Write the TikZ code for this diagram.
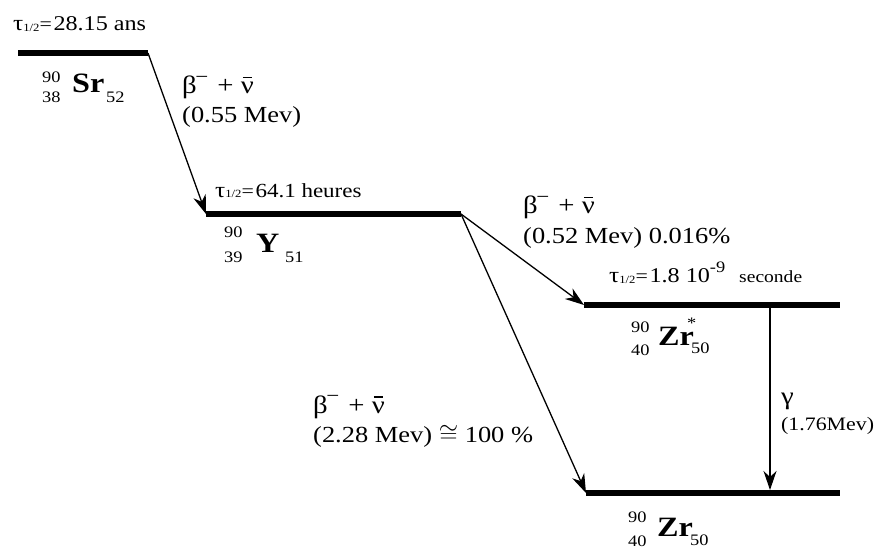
\documentclass[tikz,border=0pt]{standalone}
\usepackage{fontspec}
\setmainfont[FakeStretch=1.15]{Liberation Serif}
\usetikzlibrary{arrows.meta}
\newcommand\halflife[2]{{\fontsize{22}{22}\selectfont τ}{\fontsize{11}{11}\selectfont\raisebox{-1pt}{1/2}}{\fontsize{19}{19}\selectfont =}\,{\fontsize{#2}{#2}\selectfont #1}}
\newcommand\nubar{\ooalign{ν\cr\hidewidth\raisebox{0.62em}{\rule{0.36em}{0.05em}}\hidewidth\cr}}
\newcommand\betanu{β\kern-1.5pt\raisebox{0.42em}{\fontsize{20}{20}\selectfont −}\kern2pt\ + \nubar}
\tikzset{
  lvl/.style={line width=6pt},
  trans/.style={line width=1.3pt,-{Stealth[length=19pt,width=13pt,inset=6pt]}},
  txt/.style={inner sep=0pt,anchor=base west,font=\fontsize{23}{24}\selectfont},
  btxt/.style={inner sep=0pt,anchor=base west,font=\fontsize{25}{26}\selectfont},
  small/.style={inner sep=0pt,anchor=base west,font=\fontsize{16}{16}\selectfont},
  elem/.style={inner sep=0pt,anchor=base west,font=\fontsize{28}{28}\selectfont\bfseries},
  hltxt/.style={inner sep=0pt,anchor=base west}
}
\begin{document}
\begin{tikzpicture}[x=1pt,y=-1pt]
\useasboundingbox (0,0) rectangle (875,548);
% levels
\coordinate (srL) at (18,53);  \coordinate (srR) at (148,53);
\coordinate (yL) at (206,214); \coordinate (yR) at (461,214);
\coordinate (zsL) at (584,305); \coordinate (zsR) at (840,305);
\coordinate (zgL) at (586,493); \coordinate (zgR) at (840,493);
\coordinate (g1) at (770,305); \coordinate (g2) at (770,490);
\draw[lvl] (srL) -- (srR);
\draw[lvl] (yL) -- (yR);
\draw[lvl] (zsL) -- (zsR);
\draw[lvl] (zgL) -- (zgR);
% transitions
\draw[trans] (srR) -- (yL);
\draw[trans] (yR) -- (zsL);
\draw[trans] (yR) -- (zgL);
\draw[trans] (g1) -- (g2);
% half-lives
\node[hltxt] (hsr) at (13,31) {\halflife{28.15 ans}{21}};
\node[hltxt] (hy) at (215,197) {\halflife{64.1 heures}{20}};
\node[hltxt] (hzs) at (609,282) {\halflife{1.8 10\raisebox{10pt}{\fontsize{16}{16}\selectfont -9}\hspace{14pt}{\fontsize{17}{17}\selectfont seconde}}{21}};
% Sr
\node[small] (sra) at (42,83) {90};
\node[small] (srz) at (42,103) {38};
\node[elem] (sre) at (72,93) {Sr};
\node[small] (srn) at (106,103) {52};
% Y
\node[small] (ya) at (224,237) {90};
\node[small] (yz) at (224,262) {39};
\node[elem] (ye) at (256,252) {Y};
\node[small] (yn) at (285,262) {51};
% Zr*
\node[small] (zsa) at (631,332) {90};
\node[small] (zsz) at (631,355) {40};
\node[elem] (zse) at (658,345) {Zr};
\node[small] (zsst) at (687,328) {*};
\node[small] (zsn) at (691,353) {50};
% Zr
\node[small] (zga) at (628,522) {90};
\node[small] (zgz) at (628,546) {40};
\node[elem] (zge) at (657,536) {Zr};
\node[small] (zgn) at (690,545) {50};
% beta labels
\node[btxt] (b1) at (182,94) {\betanu};
\node[txt] (e1) at (182,123) {(0.55 Mev)};
\node[btxt] (b2) at (523,214) {\betanu};
\node[txt] (e2) at (523,243) {(0.52 Mev) 0.016\%};
\node[btxt] (b3) at (313,413) {\betanu};
\node[txt] (e3) at (313,442) {(2.28 Mev) $\cong$ 100 \%};
\node[btxt] (gam) at (781,404) {γ};
\node[small,font=\fontsize{19}{19}\selectfont] (e4) at (781,430) {(1.76Mev)};
\end{tikzpicture}
\end{document}
